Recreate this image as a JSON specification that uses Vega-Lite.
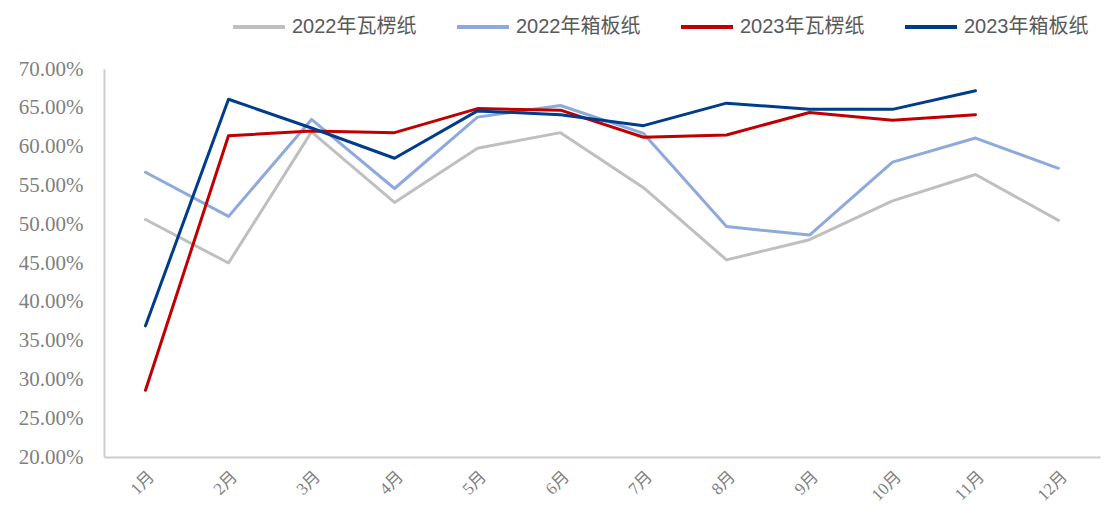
{
  "$schema": "https://vega.github.io/schema/vega-lite/v6.json",
  "width": 996,
  "height": 388,
  "autosize": {"type": "none"},
  "padding": {"left": 104, "top": 69, "right": 13, "bottom": 53},
  "background": "white",
  "config": {"view": {"stroke": null}},
  "data": {
    "values": [
      {"series": "2022年瓦楞纸", "month": "1月", "value": 0.506},
      {"series": "2022年瓦楞纸", "month": "2月", "value": 0.450},
      {"series": "2022年瓦楞纸", "month": "3月", "value": 0.619},
      {"series": "2022年瓦楞纸", "month": "4月", "value": 0.528},
      {"series": "2022年瓦楞纸", "month": "5月", "value": 0.598},
      {"series": "2022年瓦楞纸", "month": "6月", "value": 0.618},
      {"series": "2022年瓦楞纸", "month": "7月", "value": 0.547},
      {"series": "2022年瓦楞纸", "month": "8月", "value": 0.454},
      {"series": "2022年瓦楞纸", "month": "9月", "value": 0.480},
      {"series": "2022年瓦楞纸", "month": "10月", "value": 0.530},
      {"series": "2022年瓦楞纸", "month": "11月", "value": 0.564},
      {"series": "2022年瓦楞纸", "month": "12月", "value": 0.505},
      {"series": "2022年箱板纸", "month": "1月", "value": 0.567},
      {"series": "2022年箱板纸", "month": "2月", "value": 0.510},
      {"series": "2022年箱板纸", "month": "3月", "value": 0.635},
      {"series": "2022年箱板纸", "month": "4月", "value": 0.546},
      {"series": "2022年箱板纸", "month": "5月", "value": 0.638},
      {"series": "2022年箱板纸", "month": "6月", "value": 0.653},
      {"series": "2022年箱板纸", "month": "7月", "value": 0.617},
      {"series": "2022年箱板纸", "month": "8月", "value": 0.497},
      {"series": "2022年箱板纸", "month": "9月", "value": 0.486},
      {"series": "2022年箱板纸", "month": "10月", "value": 0.580},
      {"series": "2022年箱板纸", "month": "11月", "value": 0.611},
      {"series": "2022年箱板纸", "month": "12月", "value": 0.572},
      {"series": "2023年瓦楞纸", "month": "1月", "value": 0.286},
      {"series": "2023年瓦楞纸", "month": "2月", "value": 0.614},
      {"series": "2023年瓦楞纸", "month": "3月", "value": 0.620},
      {"series": "2023年瓦楞纸", "month": "4月", "value": 0.618},
      {"series": "2023年瓦楞纸", "month": "5月", "value": 0.649},
      {"series": "2023年瓦楞纸", "month": "6月", "value": 0.647},
      {"series": "2023年瓦楞纸", "month": "7月", "value": 0.612},
      {"series": "2023年瓦楞纸", "month": "8月", "value": 0.615},
      {"series": "2023年瓦楞纸", "month": "9月", "value": 0.644},
      {"series": "2023年瓦楞纸", "month": "10月", "value": 0.634},
      {"series": "2023年瓦楞纸", "month": "11月", "value": 0.641},
      {"series": "2023年箱板纸", "month": "1月", "value": 0.369},
      {"series": "2023年箱板纸", "month": "2月", "value": 0.661},
      {"series": "2023年箱板纸", "month": "3月", "value": 0.624},
      {"series": "2023年箱板纸", "month": "4月", "value": 0.585},
      {"series": "2023年箱板纸", "month": "5月", "value": 0.646},
      {"series": "2023年箱板纸", "month": "6月", "value": 0.641},
      {"series": "2023年箱板纸", "month": "7月", "value": 0.627},
      {"series": "2023年箱板纸", "month": "8月", "value": 0.656},
      {"series": "2023年箱板纸", "month": "9月", "value": 0.648},
      {"series": "2023年箱板纸", "month": "10月", "value": 0.648},
      {"series": "2023年箱板纸", "month": "11月", "value": 0.672}
    ]
  },
  "mark": {"type": "line", "strokeWidth": 3, "strokeJoin": "round", "strokeCap": "round"},
  "encoding": {
    "x": {
      "field": "month",
      "type": "ordinal",
      "sort": ["1月", "2月", "3月", "4月", "5月", "6月", "7月", "8月", "9月", "10月", "11月", "12月"],
      "title": null,
      "axis": {
        "domain": true,
        "domainColor": "#CCCCCC",
        "domainWidth": 2,
        "ticks": false,
        "grid": false,
        "labelAngle": -45,
        "labelFont": "Times New Roman, Liberation Serif, Noto Sans CJK SC, serif",
        "labelFontSize": 17,
        "labelColor": "#7F7F7F",
        "labelPadding": 11
      }
    },
    "y": {
      "field": "value",
      "type": "quantitative",
      "title": null,
      "scale": {"domain": [0.2, 0.7], "nice": false, "zero": false},
      "axis": {
        "values": [0.2, 0.25, 0.3, 0.35, 0.4, 0.45, 0.5, 0.55, 0.6, 0.65, 0.7],
        "format": ".2%",
        "domain": true,
        "domainColor": "#CCCCCC",
        "domainWidth": 2,
        "ticks": false,
        "grid": false,
        "labelFont": "Times New Roman, Liberation Serif, serif",
        "labelFontSize": 21,
        "labelColor": "#7F7F7F",
        "labelPadding": 21
      }
    },
    "color": {
      "field": "series",
      "type": "nominal",
      "sort": ["2022年瓦楞纸", "2022年箱板纸", "2023年瓦楞纸", "2023年箱板纸"],
      "scale": {
        "domain": ["2022年瓦楞纸", "2022年箱板纸", "2023年瓦楞纸", "2023年箱板纸"],
        "range": ["#BFBFBF", "#8EA9DB", "#C00000", "#003C8C"]
      },
      "legend": {
        "title": null,
        "orient": "none",
        "direction": "horizontal",
        "legendX": 127,
        "legendY": -70,
        "symbolType": "stroke",
        "symbolSize": 2704,
        "symbolStrokeWidth": 4,
        "labelFont": "Liberation Sans, Noto Sans CJK SC",
        "labelFontSize": 20,
        "labelColor": "#595959",
        "labelOffset": 5,
        "columnPadding": 32
      }
    }
  }
}
